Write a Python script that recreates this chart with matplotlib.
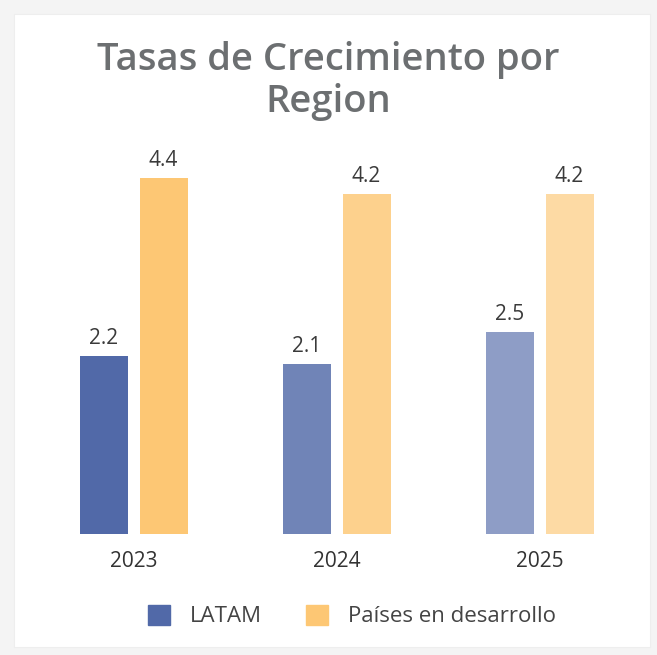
import matplotlib.pyplot as plt
from matplotlib.patches import Rectangle, Patch

years = ['2023', '2024', '2025']
latam = [2.2, 2.1, 2.5]
paises = [4.4, 4.2, 4.2]
series_names = ['LATAM', 'Países en desarrollo']

# colours fade a bit per year, like the original
latam_color = '#5169A8'
paises_color = '#FDC774'
alphas = [1.0, 0.82, 0.65]

W, H = 657, 655
fig = plt.figure(figsize=(W / 100, H / 100), dpi=100)
fig.patch.set_facecolor('#f4f4f4')

# white card behind everything
fig.patches.append(Rectangle((14 / W, 8 / H), 636 / W, 633 / H, transform=fig.transFigure,
                             facecolor='white', edgecolor='#eeeeee', linewidth=0.8, zorder=-10))

font = 'Open Sans'
fig.text(0.5, 1 - 60 / H, 'Tasas de Crecimiento por', ha='center', va='center',
         fontsize=27.5, fontweight='semibold', color='#6c6f71', family=font)
fig.text(0.5, 1 - 102 / H, 'Region', ha='center', va='center',
         fontsize=27.5, fontweight='semibold', color='#6c6f71', family=font)

ax = fig.add_axes([14 / W, 121 / H, 635 / W, 394 / H])
ax.set_facecolor('none')
ax.set_zorder(5)

x = list(range(len(years)))
off = 0.147
w = 0.236
for i in x:
    b1 = ax.bar(i - off, latam[i], w, color=latam_color, alpha=alphas[i])
    b2 = ax.bar(i + off, paises[i], w, color=paises_color, alpha=alphas[i])
    for bars, v in ((b1, latam[i]), (b2, paises[i])):
        r = bars[0]
        ax.annotate(f'{v}', (r.get_x() + r.get_width() / 2, v), xytext=(0, 5),
                    textcoords='offset points', ha='center', va='bottom',
                    fontsize=15, color='#3a3a3a', family=font)

ax.set_xlim(-0.59, -0.59 + 635 / 203)
ax.set_ylim(0, 394 / 81)
ax.set_xticks(x)
ax.set_xticklabels(years, fontsize=15, color='#333333', family=font)
ax.tick_params(axis='x', length=0, pad=12)
ax.set_yticks([])
for s in ax.spines.values():
    s.set_visible(False)

handles = [Patch(color=latam_color), Patch(color=paises_color)]
fig.legend(handles, series_names, loc='center', bbox_to_anchor=(352 / W, 1 - 616 / H),
           ncol=2, frameon=False, handlelength=1.0, handleheight=1.0,
           handletextpad=0.9, columnspacing=2.0, prop={'family': font, 'size': 16})
for t in fig.legends[0].get_texts():
    t.set_color('#444444')

fig.savefig('out.png', dpi=100, facecolor=fig.get_facecolor())
